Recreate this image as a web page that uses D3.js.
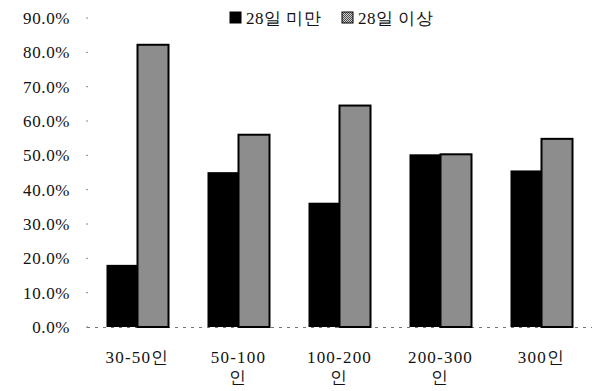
<!DOCTYPE html>
<html>
<head>
<meta charset="utf-8">
<script src="https://cdn.jsdelivr.net/npm/d3@7"></script>
<style>
  html, body { margin: 0; padding: 0; background: #fff; }
  svg { display: block; }
</style>
</head>
<body>
<svg id="chart" width="596" height="391"></svg>
<script>
const categories = ["30-50인", "50-100인", "100-200인", "200-300인", "300인"];
const categoryLines = [["30-50인"], ["50-100", "인"], ["100-200", "인"], ["200-300", "인"], ["300인"]];
const seriesNames = ["28일 미만", "28일 이상"];
const under28 = [0.181, 0.451, 0.362, 0.503, 0.456];
const over28 = [0.822, 0.560, 0.645, 0.503, 0.548];
const yTicks = [0, 0.1, 0.2, 0.3, 0.4, 0.5, 0.6, 0.7, 0.8, 0.9];

const FONT = '"Liberation Serif"';
const svg = d3.select("#chart");
const defs = svg.append("defs");
const pat = defs.append("pattern").attr("id", "dither")
  .attr("width", 2).attr("height", 2).attr("patternUnits", "userSpaceOnUse");
pat.append("rect").attr("width", 2).attr("height", 2).attr("fill", "#d0d0d0");
pat.append("rect").attr("x", 0).attr("y", 0).attr("width", 1).attr("height", 1).attr("fill", "#4a4a4a");
pat.append("rect").attr("x", 1).attr("y", 1).attr("width", 1).attr("height", 1).attr("fill", "#4a4a4a");

const x = d3.scaleBand().domain(categories).range([87, 592]).paddingInner(0.386).paddingOuter(0.193);
const xs = d3.scaleBand().domain(seriesNames).range([0, x.bandwidth()]);
const y = d3.scaleLinear().domain([0, 0.9]).range([327, 18]);

// y axis labels
const yAxis = d3.axisLeft(y).tickValues(yTicks).tickFormat(d3.format(".1%")).tickSize(0).tickPadding(0);
const yg = svg.append("g").attr("transform", "translate(70,0)").call(yAxis);
yg.attr("font-family", null).attr("font-size", null);
yg.select(".domain").remove();
yg.selectAll("text").style("font-family", FONT).style("font-size", "17px")
  .attr("letter-spacing", 0.6).attr("fill", "#111");
// tiny tick marks
svg.append("g").selectAll("line").data(yTicks).join("line")
  .attr("x1", 86).attr("x2", 88).attr("y1", d => y(d)).attr("y2", d => y(d))
  .attr("stroke", "#888").attr("stroke-width", 1);

// baseline dashes
svg.append("line").attr("x1", 87).attr("x2", 592).attr("y1", y(0) + 0.5).attr("y2", y(0) + 0.5)
  .attr("stroke", "#777").attr("stroke-width", 1).attr("stroke-dasharray", "3,5");

// bars
const groups = svg.append("g").selectAll("g").data(categories).join("g")
  .attr("transform", d => `translate(${x(d)},0)`);
groups.append("rect")
  .attr("x", xs(seriesNames[0]))
  .attr("y", (d, i) => y(under28[i]))
  .attr("width", xs.bandwidth())
  .attr("height", (d, i) => y(0) - y(under28[i]))
  .attr("fill", "#000");
groups.append("rect")
  .attr("x", xs(seriesNames[1]))
  .attr("y", (d, i) => y(over28[i]))
  .attr("width", xs.bandwidth())
  .attr("height", (d, i) => y(0) - y(over28[i]))
  .attr("fill", "url(#dither)")
  .attr("stroke", "#000").attr("stroke-width", 2);

// x labels
const xl = svg.append("g").selectAll("text").data(categories).join("text")
  .attr("x", d => x(d) + x.bandwidth() / 2)
  .attr("y", 363)
  .attr("text-anchor", "middle")
  .style("font-family", FONT).style("font-size", "17px")
  .attr("fill", "#111")
  .attr("letter-spacing", 1.2);
xl.each(function(d, i) {
  const t = d3.select(this);
  categoryLines[i].forEach((line, j) => {
    t.append("tspan").attr("x", x(d) + x.bandwidth() / 2).attr("dy", j === 0 ? 0 : 20).text(line);
  });
});

// legend
const legendX = [230, 342];
const lg = svg.append("g").selectAll("g").data(seriesNames).join("g")
  .attr("transform", (d, i) => `translate(${legendX[i]},12)`);
lg.append("rect").attr("width", 11).attr("height", 11)
  .attr("fill", (d, i) => i === 0 ? "#000" : "url(#dither)")
  .attr("stroke", "#000").attr("stroke-width", 1);
lg.append("text").attr("x", 16).attr("y", 11.5)
  .style("font-family", FONT).style("font-size", "17px").attr("fill", "#111")
  .attr("letter-spacing", 0.5).text(d => d);
</script>
</body>
</html>
